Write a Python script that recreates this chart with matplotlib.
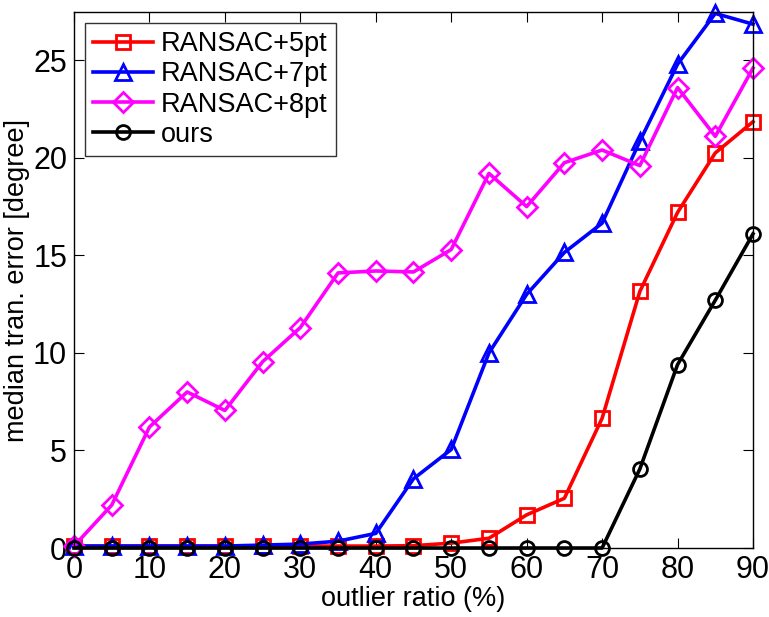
import numpy as np
import matplotlib
matplotlib.use('Agg')
import matplotlib.pyplot as plt

plt.rcParams['font.family'] = ['Liberation Sans', 'DejaVu Sans']

# outlier ratio (%)
ratio = [0, 5, 10, 15, 20, 25, 30, 35, 40, 45, 50, 55, 60, 65, 70, 75, 80, 85, 90]

# median translation error [degree]
ransac5 = [0.1, 0.1, 0.1, 0.1, 0.1, 0.1, 0.1, 0.1, 0.1, 0.12, 0.25, 0.5, 1.7, 2.55, 6.65, 13.15, 17.2, 20.25, 21.85]
ransac7 = [0.1, 0.1, 0.1, 0.1, 0.1, 0.15, 0.2, 0.35, 0.75, 3.55, 5.05, 10.0, 13.0, 15.15, 16.65, 20.85, 24.8, 27.4, 26.85]
ransac8 = [0.1, 2.2, 6.2, 8.0, 7.05, 9.55, 11.3, 14.1, 14.2, 14.15, 15.3, 19.2, 17.5, 19.75, 20.4, 19.6, 23.6, 21.1, 24.6]
ours = [0, 0, 0, 0, 0, 0, 0, 0, 0, 0, 0, 0, 0, 0, 0, 4.05, 9.4, 12.7, 16.1]

fig = plt.figure(figsize=(7.69, 6.17), dpi=100)
ax = fig.add_axes([0.0962, 0.1118, 0.883, 0.868])

lw = 2.6
mew = 2.0
common = dict(lw=lw, mfc='none', mew=mew, clip_on=False)
ax.plot(ratio, ransac5, color='red', marker='s', ms=10, label='RANSAC+5pt', **common)
ax.plot(ratio, ransac7, color='blue', marker='^', ms=12, label='RANSAC+7pt', **common)
ax.plot(ratio, ransac8, color='magenta', marker='D', ms=10, label='RANSAC+8pt', **common)
ax.plot(ratio, ours, color='black', marker='o', ms=10, label='ours', **common)

ax.set_xlim(0, 90)
ax.set_ylim(0, 27.45)
ax.set_xticks(range(0, 91, 10))
ax.set_yticks([0, 5, 10, 15, 20, 25])
ax.tick_params(direction='in', top=True, right=True, length=7, labelsize=22, pad=5)
for s in ax.spines.values():
    s.set_linewidth(1.0)
ax.set_xlabel('outlier ratio (%)', fontsize=19.5, labelpad=1)
ax.set_ylabel('median tran. error [degree]', fontsize=19.5, labelpad=2)

leg = ax.legend(loc='upper left', fontsize=19.5, fancybox=False, edgecolor='black',
                handlelength=2.2, borderaxespad=0.4, labelspacing=0.15, handletextpad=0.3, borderpad=0.3)
leg.get_frame().set_linewidth(1.0)

fig.savefig('out.png', dpi=100)
